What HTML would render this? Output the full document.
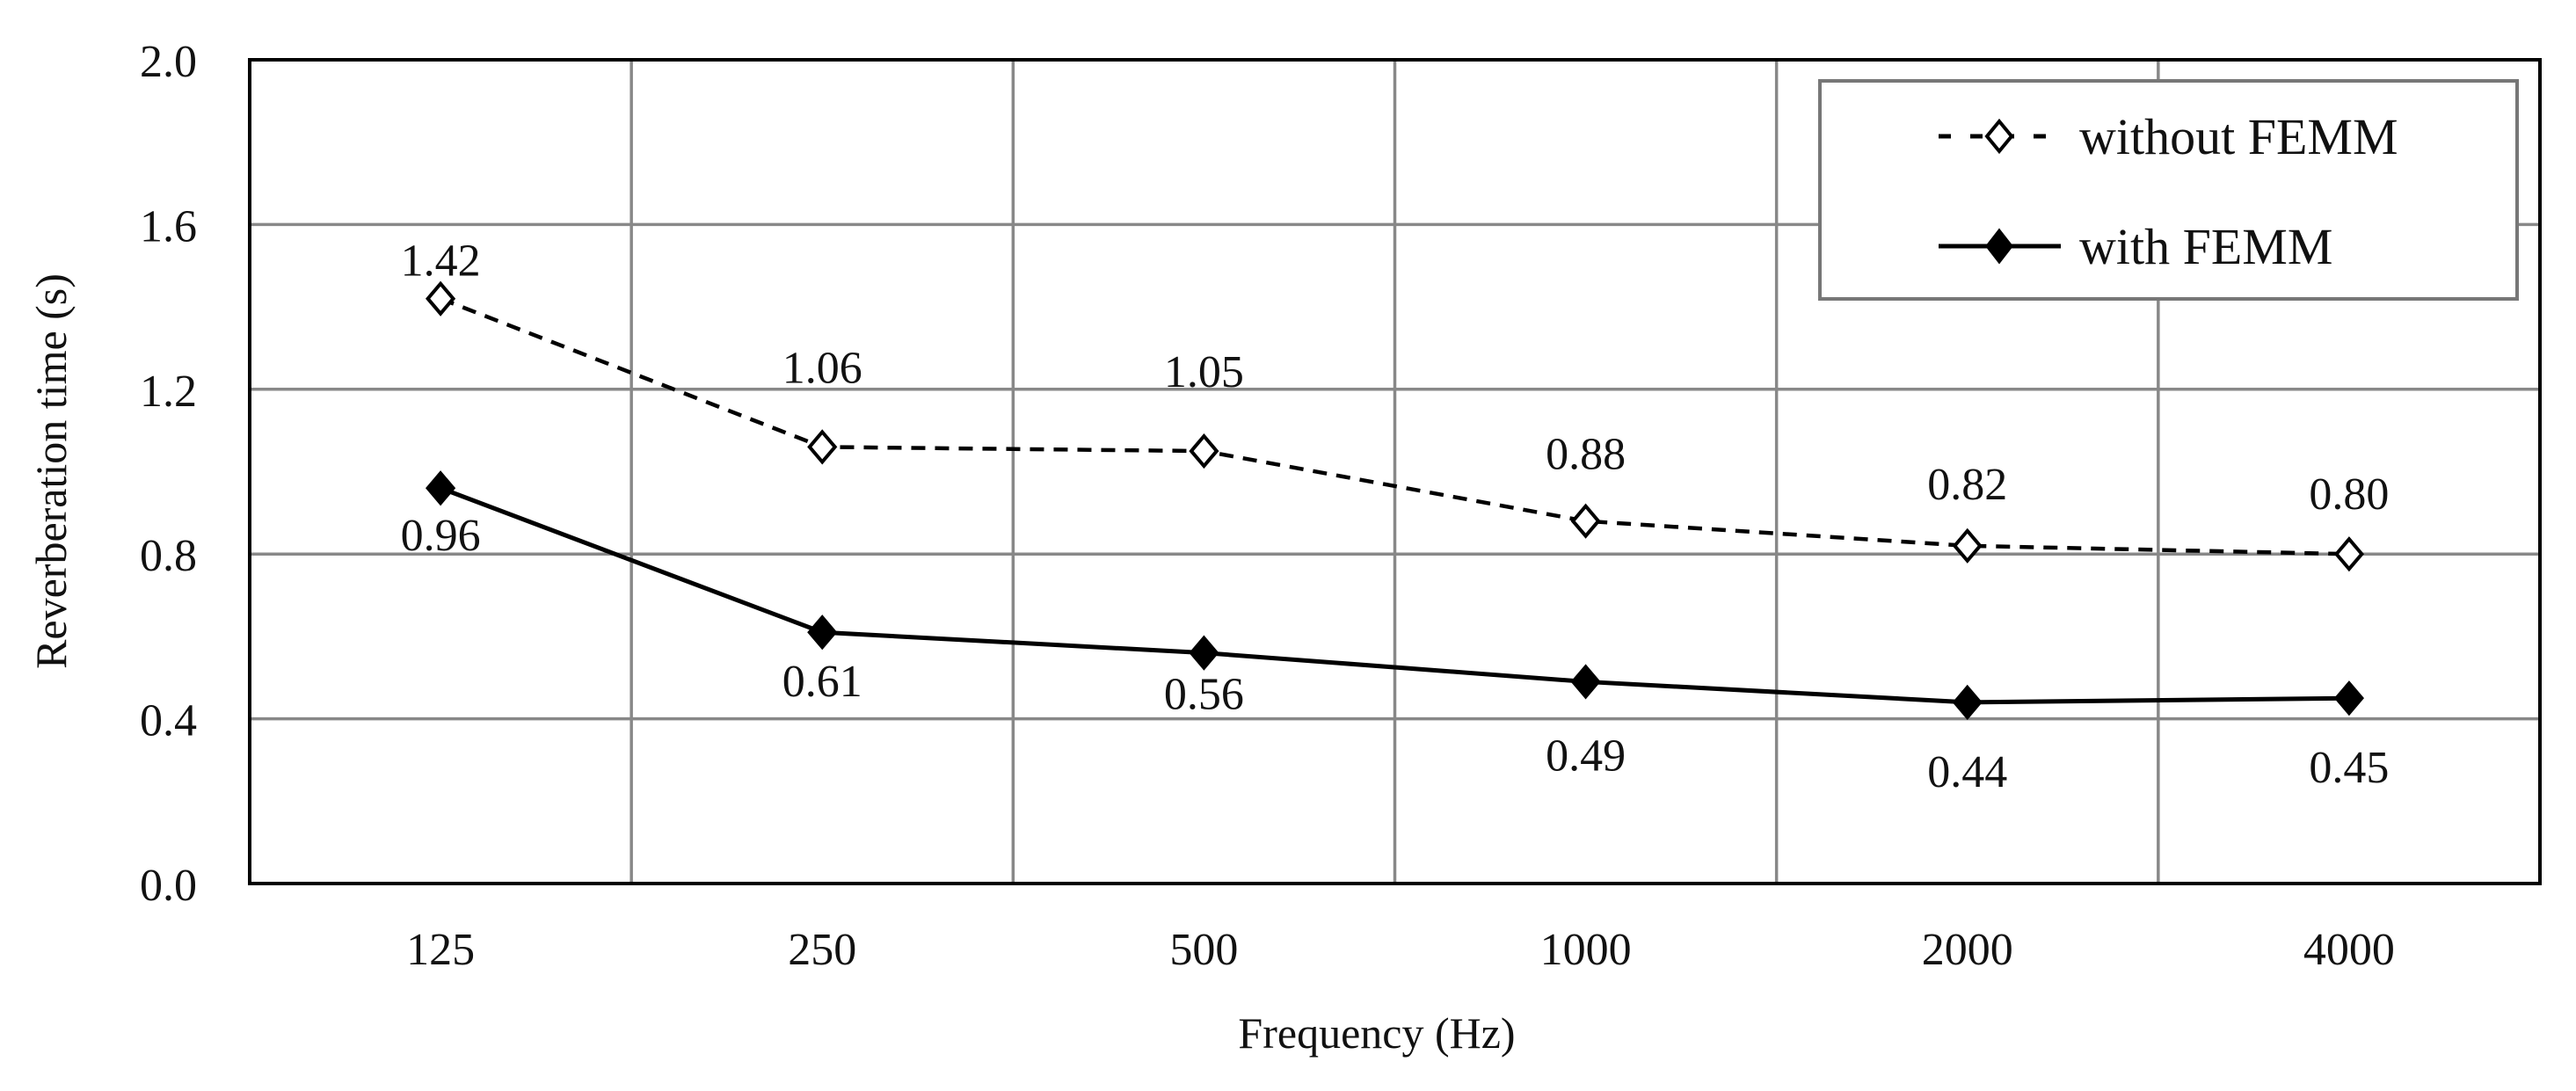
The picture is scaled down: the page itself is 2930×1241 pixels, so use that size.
<!DOCTYPE html>
<html><head><meta charset="utf-8"><style>
html,body{margin:0;padding:0;background:#fff}
svg text{font-family:"Liberation Serif",serif;fill:#111}
</style></head><body>
<svg id="chart" width="2930" height="1236" viewBox="0 0 2930 1236" xmlns="http://www.w3.org/2000/svg">
<g id="grid"></g>
<g id="series"></g>
<rect x="284" y="68" width="2605" height="937" fill="none" stroke="#000" stroke-width="4"/>
<g id="axes"></g>
<text x="75" y="536" font-size="50" text-anchor="middle" transform="rotate(-90 75 536)">Reverberation time (s)</text>
<text x="1566" y="1192" font-size="50" text-anchor="middle">Frequency (Hz)</text>
<g>
<rect x="2070" y="92" width="793" height="248" fill="#fff" stroke="#777" stroke-width="4"/>
<g>
<line x1="2205" y1="155" x2="2344" y2="155" stroke="#000" stroke-width="5" stroke-dasharray="14,22"/>
<path d="M2274 138 L2288 155 L2274 172 L2260 155 Z" fill="#fff" stroke="#000" stroke-width="4"/>
<text x="2365" y="175" font-size="58">without FEMM</text>
</g>
<g>
<line x1="2205" y1="280" x2="2344" y2="280" stroke="#000" stroke-width="5"/>
<path d="M2274 262 L2288 280 L2274 298 L2260 280 Z" fill="#000" stroke="#000" stroke-width="3"/>
<text x="2365" y="300" font-size="58">with FEMM</text>
</g>
</g>
</svg>
<script>
const categories = ["125","250","500","1000","2000","4000"];
const withoutFEMM = [1.42,1.06,1.05,0.88,0.82,0.80];
const withFEMM = [0.96,0.61,0.56,0.49,0.44,0.45];
const yTicks = [0.0,0.4,0.8,1.2,1.6,2.0];

const L=284,R=2889,T=68,B=1005,YMAX=2.0;
const ns="http://www.w3.org/2000/svg";
const bw=(R-L)/categories.length;
function xs(i){return L+bw*(i+0.5);}
function ys(v){return B-(v/YMAX)*(B-T);}
function mk(tag,attrs,parent){const e=document.createElementNS(ns,tag);for(const k in attrs)e.setAttribute(k,attrs[k]);parent.appendChild(e);return e;}
const grid=document.getElementById('grid'),axes=document.getElementById('axes'),ser=document.getElementById('series');
yTicks.forEach(t=>{
  const y=ys(t);
  if(t>0&&t<YMAX){const g=mk('line',{x1:L,x2:R,y1:y,y2:y,stroke:'#888','stroke-width':3.5},grid);
  
  }
  const tx=mk('text',{x:224,y:y+19,'font-size':52,'text-anchor':'end'},axes);
  tx.textContent=t.toFixed(1);
  
  
});
categories.forEach((c,i)=>{
  if(i>0){const x=L+bw*i;const g=mk('line',{x1:x,x2:x,y1:T,y2:B,stroke:'#888','stroke-width':3.5},grid);
  
  }
  const tx=mk('text',{x:xs(i),y:1097,'font-size':52,'text-anchor':'middle'},axes);
  tx.textContent=c;
  
  
});
function draw(vals,filled,dash,offs,name){
  const pts=vals.map((v,i)=>xs(i)+','+ys(v)).join(' ');
  const pl=mk('polyline',{points:pts,fill:'none',stroke:'#000','stroke-width':filled?5:4.5,'stroke-dasharray':dash||'none'},ser);
  
  
  vals.forEach((v,i)=>{
    const x=xs(i),y=ys(v),s=17;
    const p=mk('path',{d:`M${x} ${y-s} L${x+s*0.85} ${y} L${x} ${y+s} L${x-s*0.85} ${y} Z`,fill:filled?'#000':'#fff',stroke:'#000','stroke-width':4},ser);
    
    
    const t=mk('text',{x:x,y:y+offs[i]+19,'font-size':52,'text-anchor':'middle'},ser);
    t.textContent=v.toFixed(2);
    
    
  });
}
draw(withoutFEMM,false,'16,11',[-45,-92,-92,-78,-72,-70],'without-femm');
draw(withFEMM,true,null,[52,54,45,82,77,77],'with-femm');
</script>
</body></html>
